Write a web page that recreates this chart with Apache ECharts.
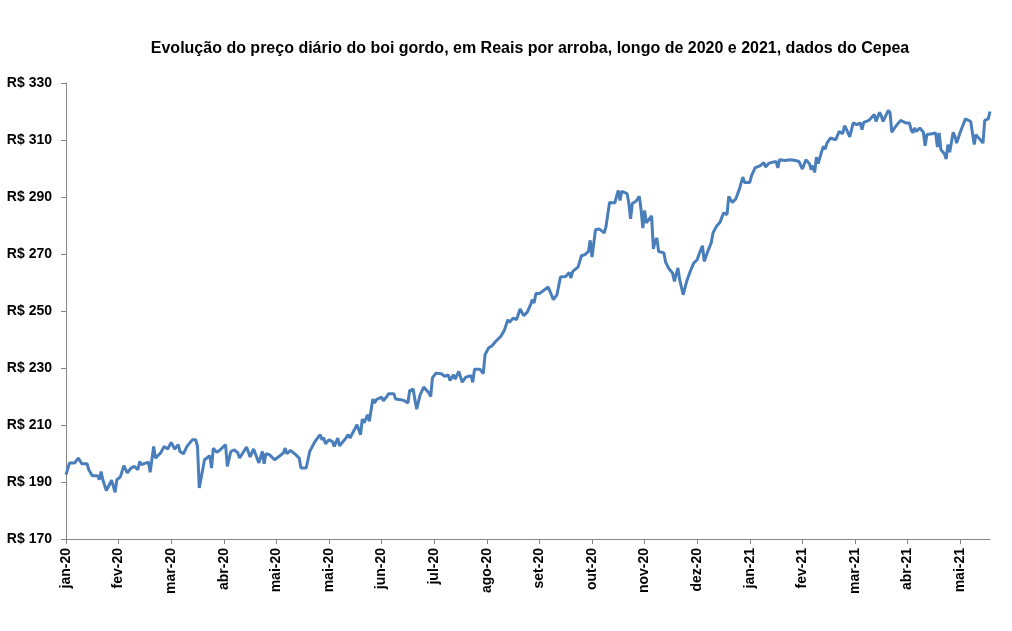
<!DOCTYPE html>
<html>
<head>
<meta charset="utf-8">
<script src="https://cdn.jsdelivr.net/npm/echarts@6/dist/echarts.min.js"></script>
<style>
html,body{margin:0;padding:0;background:#fff;}
#chart{width:1012px;height:631px;}
</style>
</head>
<body>
<div id="chart"></div>
<script>
// Days counted from 2 Jan 2020 (x-axis ticks every 30 days, as in the original Excel date axis)
const tickLabels = ['jan-20','fev-20','mar-20','abr-20','mai-20','mai-20','jun-20','jul-20','ago-20','set-20',
  'out-20','nov-20','dez-20','jan-21','fev-21','mar-21','abr-21','mai-21'];
const tickStep = 30;
const lastDay = 527;

const days = [0,2,5,7,9,12,13,15,18,19,20,21,23,26,28,29,31,33,35,37,39,41,42,43,47,48,50,51,54,56,58,60,62,64,65,67,69,72,74,75,76,77,79,80,82,83,84,86,88,91,92,94,96,98,99,
103,105,107,110,112,113,114,116,119,122,124,125,126,128,131,133,134,137,139,140,142,145,146,147,148,150,152,153,155,156,159,161,162,164,166,168,169,170,172,173,175,176,177,180,181,183,184,187,188,191,193,195,196,198,199,200,202,
204,207,208,209,211,214,216,218,219,221,222,224,226,228,229,231,232,233,236,238,239,241,243,245,248,250,252,253,255,257,259,261,263,265,266,267,268,270,275,278,280,281,282,285,287,288,289,292,294,296,298,299,300,302,304,307,308,310,313,314,315,316,317,320,321,322,323,325,327,328,329,330,331,334,335,336,337,338,341,342,344,346,347,348,349,350,352,354,356,358,360,361,363,364,366,368,369,371,373,375,377,378,380,382,384,386,387,390,391,393,396,398,399,401,405,406,407,410,413,414,416,418,420,422,424,425,426,427,428,429,431,432,433,434,436,439,440,441,443,444,445,447,
449,451,453,454,455,458,459,461,462,464,465,466,469,470,471,473,476,477,479,481,482,483,484,485,487,489,490,491,494,496,497,498,499,501,502,503,504,506,507,508,510,513,516,518,519,521,523,524,525,526,527];

const prices = [192.6,196.7,196.7,198.4,196.4,196.4,194.3,192.2,192.2,190.8,193.7,190.8,187.0,190.6,186.4,190.8,191.8,195.7,193.2,194.9,195.5,194.3,197.2,196.1,197.0,193.4,202.5,198.4,200.2,202.5,201.6,203.9,201.6,203.1,200.7,199.9,202.5,204.8,204.8,202.5,187.9,187.5,197.8,198.4,199.2,194.9,201.9,200.4,201.3,203.1,195.5,200.7,201.3,200.2,198.4,
202.3,198.8,201.6,196.7,200.7,196.4,199.9,199.6,197.8,199.2,200.2,201.9,199.9,201.1,199.6,198.4,194.9,194.9,200.7,201.9,204.2,206.6,204.8,205.6,203.4,204.8,204.2,202.5,205.4,202.7,204.9,206.6,205.4,207.8,210.1,206.6,212.1,210.7,213.6,211.3,219.1,217.7,218.9,219.8,218.5,220.0,221.0,221.0,219.1,218.9,218.5,217.7,222.1,222.6,218.9,215.6,220.6,
223.3,221.2,220.0,226.5,228.2,228.0,227.1,227.6,225.6,227.6,226.1,228.8,225.0,226.8,226.1,227.3,225.0,229.6,229.6,228.0,234.7,237.0,237.8,239.3,241.1,243.2,246.9,246.0,247.5,247.0,250.7,248.4,249.5,252.2,254.0,252.8,256.1,256.1,258.4,254.0,255.7,255.4,261.9,262.1,263.5,261.6,263.9,265.4,269.4,269.8,270.9,274.8,268.9,278.5,278.8,277.4,279.7,288.1,287.9,290.2,292.3,288.8,292.0,291.2,287.9,282.3,287.7,288.5,290.2,285.5,279.1,285.3,280.9,283.4,271.8,274.4,275.6,270.9,270.4,267.1,264.7,263.3,260.4,259.8,265.1,261.0,255.7,260.4,263.9,266.8,268.0,269.8,272.9,267.4,270.9,273.9,277.4,279.7,281.1,284.4,283.8,290.2,288.1,289.3,292.6,297.0,295.1,295.1,297.5,300.2,301.0,302.1,300.5,301.9,302.5,300.2,303.1,302.8,303.1,303.7,302.8,302.5,299.8,303.1,301.7,299.6,301.0,298.6,304.0,301.7,306.0,307.8,306.8,308.9,310.7,310.1,309.9,313.0,312.2,315.0,313.9,311.1,
316.0,315.4,316.0,313.6,316.2,316.9,317.4,318.9,316.5,319.7,318.5,316.5,320.4,319.5,312.7,314.6,316.9,316.2,316.0,316.0,313.6,312.5,314.2,313.0,314.2,312.7,308.0,311.9,312.2,312.5,307.5,312.5,306.6,305.2,303.3,308.4,305.7,312.7,311.3,308.9,312.7,317.4,316.5,308.4,311.9,310.4,308.9,316.9,316.5,317.4,320.0];

const yMin = 170, yMax = 330, yStep = 20;

const tickValues = tickLabels.map((_, i) => i * tickStep);
const seriesData = days.map((d, i) => [d, prices[i]]);

const chart = echarts.init(document.getElementById('chart'), null, {renderer: 'canvas'});
chart.setOption({
  animation: false,
  backgroundColor: '#ffffff',
  title: {
    text: 'Evolução do preço diário do boi gordo, em Reais por arroba, longo de 2020 e 2021, dados do Cepea',
    left: 525,
    textAlign: 'center',
    top: 36,
    textStyle: {fontFamily: 'Liberation Sans, Arial, sans-serif', fontSize: 16, fontWeight: 'bold', color: '#000'}
  },
  grid: {left: 66, right: 22, top: 83, bottom: 92, containLabel: false},
  xAxis: {
    type: 'value',
    min: 0,
    max: lastDay,
    interval: tickStep,
    axisLine: {show: true, lineStyle: {color: '#868686', width: 1}},
    axisTick: {show: true, inside: false, length: 5, lineStyle: {color: '#868686'}, customValues: tickValues},
    splitLine: {show: false},
    axisLabel: {
      rotate: 90,
      margin: 9,
      padding: [7, 0, 0, 0],
      customValues: tickValues,
      formatter: v => tickLabels[Math.round(v / tickStep)] || '',
      fontFamily: 'Liberation Sans, Arial, sans-serif',
      fontSize: 14, fontWeight: 'bold', color: '#000'
    }
  },
  yAxis: {
    type: 'value',
    min: yMin, max: yMax, interval: yStep,
    axisLine: {show: true, lineStyle: {color: '#868686', width: 1}},
    axisTick: {show: true, length: 5, lineStyle: {color: '#868686'}},
    splitLine: {show: false},
    axisLabel: {
      formatter: v => 'R$ ' + v,
      margin: 14,
      fontFamily: 'Liberation Sans, Arial, sans-serif',
      fontSize: 14, fontWeight: 'bold', color: '#000'
    }
  },
  series: [{
    type: 'line',
    data: seriesData,
    showSymbol: false,
    symbol: 'none',
    lineStyle: {color: '#4a7ebb', width: 3},
    itemStyle: {color: '#4a7ebb'}
  }]
});
</script>
</body>
</html>
